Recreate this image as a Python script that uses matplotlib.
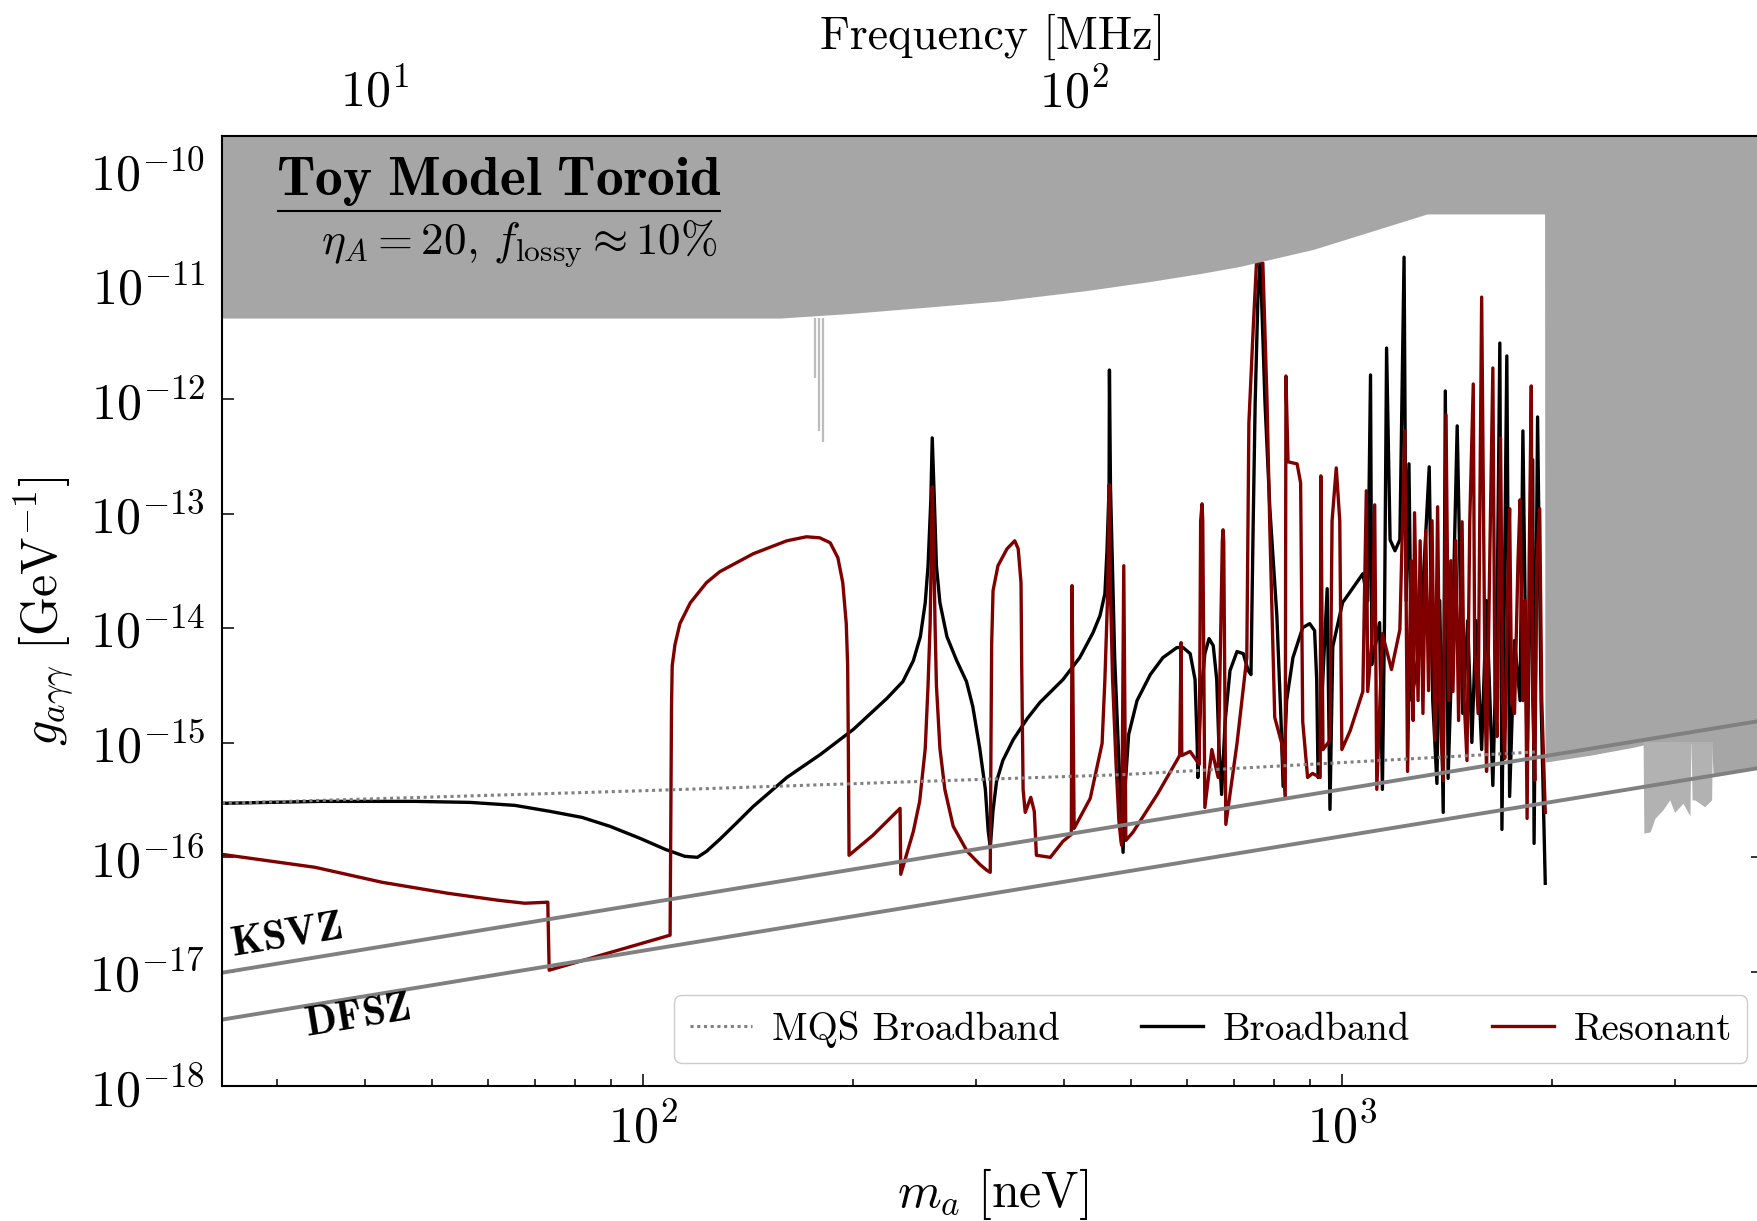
import numpy as np
import matplotlib.pyplot as plt
from matplotlib.ticker import LogLocator, NullLocator

plt.rcParams['font.family'] = 'cmr10'
plt.rcParams['mathtext.fontset'] = 'cm'
plt.rcParams['axes.formatter.use_mathtext'] = True

# all values are log10 of the data (m_a in neV, g in GeV^-1)
broadband_logm = [1.398, 1.538, 1.674, 1.753, 1.817, 1.867, 1.913, 1.953, 1.996, 2.032,
                  2.060, 2.078, 2.091, 2.110, 2.135, 2.158, 2.206, 2.254, 2.301, 2.349,
                  2.372, 2.387, 2.397, 2.404, 2.408, 2.412, 2.414, 2.417, 2.420, 2.425,
                  2.435, 2.449, 2.463, 2.472, 2.482, 2.490, 2.494, 2.497, 2.501, 2.506,
                  2.515, 2.530, 2.550, 2.568, 2.601, 2.625, 2.644, 2.654, 2.661, 2.664,
                  2.667, 2.6675, 2.669, 2.672, 2.675, 2.680, 2.684, 2.687, 2.690, 2.695,
                  2.707, 2.726, 2.744, 2.764, 2.773, 2.783, 2.790, 2.793, 2.794, 2.798,
                  2.804, 2.810, 2.816, 2.821, 2.824, 2.828, 2.833, 2.840, 2.850, 2.859,
                  2.866, 2.870, 2.873, 2.876, 2.880, 2.883, 2.885, 2.890, 2.897, 2.907,
                  2.913, 2.916, 2.921, 2.930, 2.944, 2.954, 2.961, 2.964, 2.966,
                  2.979, 2.983, 2.987, 3.001, 3.030, 3.037, 3.041, 3.043, 3.054, 3.058,
                  3.061, 3.064, 3.069, 3.076, 3.083, 3.089, 3.092, 3.096, 3.100, 3.112,
                  3.125, 3.130, 3.136, 3.140, 3.145, 3.148, 3.152, 3.158, 3.165, 3.173,
                  3.180, 3.186, 3.192, 3.200, 3.207, 3.216, 3.222, 3.226, 3.229, 3.236,
                  3.240, 3.247, 3.255, 3.259, 3.265, 3.273, 3.275, 3.280, 3.285, 3.291]
broadband_logg = [-15.530, -15.513, -15.513, -15.522, -15.548, -15.600, -15.653, -15.731, -15.836, -15.932,
                  -15.993, -16.002, -15.950, -15.845, -15.696, -15.557, -15.304, -15.103, -14.885, -14.614,
                  -14.466, -14.283, -14.073, -13.777, -13.454, -12.878, -12.337, -12.878, -13.454, -13.777,
                  -14.073, -14.283, -14.466, -14.684, -15.051, -15.408, -15.766, -15.915, -15.592, -15.339,
                  -15.156, -14.972, -14.789, -14.649, -14.449, -14.257, -14.039, -13.890, -13.698, -13.323,
                  -12.765, -11.744, -12.765, -13.515, -14.257, -15.007, -15.566, -15.958, -15.382, -14.929,
                  -14.632, -14.405, -14.257, -14.169, -14.169, -14.222, -14.449, -15.007, -15.304, -14.632,
                  -14.222, -14.091, -14.152, -14.449, -15.007, -15.452, -14.815, -14.370, -14.204, -14.222,
                  -14.370, -14.405, -13.140, -12.023, -11.089, -10.792, -11.089, -12.023, -12.956, -13.890,
                  -14.815, -15.382, -14.632, -14.257, -13.995, -13.960, -14.021, -14.449, -15.304,
                  -13.655, -15.583, -14.161, -13.777, -13.524, -13.759, -11.787, -14.318, -13.951, -15.408,
                  -13.934, -11.552, -13.227, -13.323, -13.227, -10.758, -13.759, -12.564, -14.632, -14.108,
                  -12.590, -14.632, -15.356, -13.759, -15.609, -11.927, -15.312, -14.108, -12.232, -14.745,
                  -13.934, -14.998, -13.934, -15.060, -13.759, -15.374, -13.934, -11.508, -15.758, -11.621,
                  -15.470, -14.108, -14.632, -12.276, -15.156, -12.529, -15.880, -12.154, -14.632, -16.229]

resonant_logm = [1.398, 1.531, 1.627, 1.721, 1.793, 1.831, 1.864, 1.866, 2.039, 2.041,
                 2.042, 2.046, 2.053, 2.068, 2.091, 2.110, 2.158, 2.206, 2.234, 2.253,
                 2.268, 2.279, 2.286, 2.291, 2.293, 2.294, 2.295, 2.329, 2.368, 2.369,
                 2.377, 2.387, 2.396, 2.404, 2.408, 2.411, 2.413, 2.414, 2.416, 2.418,
                 2.420, 2.425, 2.432, 2.444, 2.464, 2.482, 2.492, 2.497, 2.498, 2.499,
                 2.501, 2.508, 2.521, 2.532, 2.537, 2.541, 2.542, 2.544, 2.547, 2.555,
                 2.560, 2.563, 2.583, 2.601, 2.613, 2.614, 2.617, 2.640, 2.657, 2.661,
                 2.665, 2.667, 2.669, 2.672, 2.677, 2.681, 2.684, 2.685, 2.688, 2.691,
                 2.701, 2.736, 2.764, 2.768, 2.770, 2.771, 2.783, 2.796, 2.798, 2.800,
                 2.801, 2.804, 2.814, 2.823, 2.829, 2.830, 2.831, 2.834, 2.850, 2.864,
                 2.867, 2.873, 2.878, 2.887, 2.893, 2.897, 2.904, 2.914, 2.919, 2.920,
                 2.923, 2.936, 2.941, 2.944, 2.951, 2.958, 2.969, 2.970, 2.973, 2.983,
                 2.986, 2.992, 2.997, 3.000, 3.012, 3.030, 3.035, 3.037, 3.043, 3.047,
                 3.050, 3.058, 3.071,
                 3.083, 3.090, 3.094, 3.099, 3.102, 3.104, 3.109, 3.112, 3.116, 3.120,
                 3.124, 3.129, 3.133, 3.137, 3.140, 3.145, 3.149, 3.153, 3.156, 3.159,
                 3.163, 3.167, 3.172, 3.175, 3.179, 3.183, 3.188, 3.190, 3.195, 3.197,
                 3.200, 3.205, 3.207, 3.212, 3.216, 3.219, 3.222, 3.225, 3.227, 3.230,
                 3.233, 3.238, 3.240, 3.243, 3.247, 3.252, 3.255, 3.259, 3.262, 3.265,
                 3.268, 3.271, 3.273, 3.276, 3.279, 3.283, 3.286, 3.291]
resonant_logg = [-15.976, -16.089, -16.220, -16.316, -16.377, -16.403, -16.394, -16.988, -16.682, -14.684,
                 -14.327, -14.143, -13.960, -13.777, -13.602, -13.506, -13.349, -13.236, -13.201, -13.210,
                 -13.253, -13.384, -13.602, -13.960, -14.327, -15.051, -15.984, -15.810, -15.574, -16.150,
                 -15.984, -15.775, -15.513, -15.051, -14.501, -13.960, -13.236, -12.765, -13.236, -13.960,
                 -14.501, -15.051, -15.408, -15.731, -15.950, -16.063, -16.115, -16.133, -15.042, -14.143,
                 -13.672, -13.454, -13.306, -13.236, -13.306, -13.602, -14.327, -15.408, -15.609, -15.478,
                 -15.600, -15.984, -16.002, -15.862, -15.801, -13.628, -15.749, -15.487, -15.007, -14.449,
                 -13.698, -12.747, -13.698, -14.449, -15.190, -15.679, -15.862, -15.897, -13.454, -15.854,
                 -15.784, -15.452, -15.156, -15.112, -14.126, -15.112, -15.077, -15.190, -13.061, -12.913,
                 -13.061, -15.566, -15.060, -15.304, -13.236, -13.140, -13.236, -15.714, -15.007, -14.257,
                 -12.206, -11.403, -10.792, -10.810, -12.023, -13.140, -14.780, -15.007, -15.487, -11.796,
                 -12.546, -12.564, -12.730, -14.815, -15.304, -15.269, -15.304, -12.669, -15.060, -14.981,
                 -13.061, -12.599, -13.061, -15.060, -14.894, -14.553, -12.799, -14.553, -14.108, -12.922,
                 -15.408, -14.047, -14.361,
                 -14.012, -12.276, -15.251, -13.410, -14.806, -12.991, -14.632, -13.236, -14.745, -13.148,
                 -14.545, -13.061, -14.981, -12.939, -14.632, -15.330, -12.136, -14.632, -13.410, -14.553,
                 -13.236, -14.806, -13.070, -14.632, -15.156, -13.061, -11.866, -14.195, -14.745, -13.236,
                 -11.107, -14.632, -15.251, -13.236, -11.726, -14.545, -14.946, -13.410, -12.337, -14.632,
                 -15.138, -13.410, -12.956, -14.632, -14.745, -13.410, -12.878, -14.632, -13.759, -15.662,
                 -13.410, -11.883, -14.632, -15.330, -13.410, -12.956, -14.632, -15.609]

mqs_logm = [1.398, 2.000, 2.684, 3.280]
mqs_logg = [-15.53, -15.42, -15.28, -15.08]

# QCD axion bands (end points)
ksvz_logm = [1.398, 3.602]
ksvz_logg = [-17.01, -14.806]
dfsz_logm = [1.398, 3.602]
dfsz_logg = [-17.42, -15.216]

# lower edge of the excluded region
excl_logm = [1.398, 2.196, 2.296, 2.415, 2.511, 2.634, 2.726, 2.798, 2.853, 2.959,
             3.122, 3.290, 3.2905, 3.355, 3.417, 3.431, 3.529, 3.531, 3.602]
excl_logg = [-11.29, -11.29, -11.25, -11.19, -11.14, -11.05, -10.97, -10.90, -10.84, -10.69,
             -10.38, -10.38, -15.17, -15.11, -15.04, -15.02, -15.00, -15.27, -15.20]
# ragged notch of the excluded region near 3 µeV
notch_logm = [3.431, 3.432, 3.441, 3.448, 3.459, 3.469, 3.476, 3.488, 3.498, 3.4995,
              3.501, 3.505, 3.519, 3.529, 3.530]
notch_logg = [-15.02, -15.79, -15.78, -15.66, -15.59, -15.50, -15.61, -15.53, -15.64, -14.95,
              -15.50, -15.50, -15.56, -15.50, -15.00]
# narrow excluded lines hanging below the region
spike_logm = [2.246, 2.252, 2.258]
spike_logg = [-11.81, -12.28, -12.37]

MHZ_PER_NEV = 0.2417989

def p(a):
    return 10.0 ** np.asarray(a)

fig = plt.figure(figsize=(17.58, 12.21), dpi=100)
ax = fig.add_axes([222 / 1758, 135 / 1221, 1540.7 / 1758, 950 / 1221])

ax.fill_between(p(excl_logm), p(excl_logg), 1e-9, color='#a6a6a6', lw=0, zorder=3)
ax.fill_between(p(notch_logm), p(notch_logg), 10 ** -14.99, color='#b2b2b2', lw=0, zorder=3)
ax.vlines(p(spike_logm), p(spike_logg), 10 ** -11.29, color='#bcbcbc', lw=1.6, zorder=3)

ax.plot(p(mqs_logm), p(mqs_logg), ls=(0, (1, 1.2)), color='#808080', lw=2.2, zorder=2.5,
        label='MQS Broadband')
ax.plot(p(broadband_logm), p(broadband_logg), color='black', lw=2.4, zorder=2,
        label='Broadband')
ax.plot(p(resonant_logm), p(resonant_logg), color='#800000', lw=2.4, zorder=2.2,
        label='Resonant')

ax.plot(p(ksvz_logm), p(ksvz_logg), color='#808080', lw=2.8, zorder=4)
ax.plot(p(dfsz_logm), p(dfsz_logg), color='#808080', lw=2.8, zorder=4)
ax.text(10 ** 1.49, 10 ** -16.69, r'$\mathbf{KSVZ}$', fontsize=30, rotation=9.3,
        ha='center', va='center', zorder=5)
ax.text(10 ** 1.591, 10 ** -17.40, r'$\mathbf{DFSZ}$', fontsize=30, rotation=9.3,
        ha='center', va='center', zorder=5)

ax.set_xscale('log')
ax.set_yscale('log')
ax.set_xlim(25, 4000)
ax.set_ylim(1e-18, 2e-10)
ax.yaxis.set_major_locator(LogLocator(base=10, numticks=20))
ax.yaxis.set_minor_locator(NullLocator())

ax.tick_params(which='both', direction='in', top=False, right=True, width=1.1)
ax.tick_params(which='major', length=8.5, labelsize=36, pad=12)
ax.tick_params(which='minor', length=5)
ax.tick_params(axis='y', which='minor', right=False, left=False)
for s in ax.spines.values():
    s.set_linewidth(1.5)
    s.set_zorder(6)

ax.set_xlabel(r'$m_a\ [\mathrm{neV}]$', fontsize=36, labelpad=10)
ax.set_ylabel(r'$g_{a\gamma\gamma}\ [\mathrm{GeV}^{-1}]$', fontsize=36, labelpad=9)

sec = ax.secondary_xaxis('top', functions=(lambda m: m * MHZ_PER_NEV,
                                            lambda f: f / MHZ_PER_NEV))
sec.tick_params(which='both', direction='in', width=1.1)
sec.tick_params(which='major', length=8.5, labelsize=36, pad=14)
sec.tick_params(which='minor', length=5)
sec.set_xlabel('Frequency [MHz]', fontsize=33, labelpad=14)

ax.text(0.180, 0.952, r'$\mathbf{Toy\ Model\ Toroid}$', transform=ax.transAxes,
        fontsize=40, ha='center', va='center', zorder=7)
ax.plot([0.036, 0.324], [0.921, 0.921], transform=ax.transAxes, color='black',
        lw=1.5, zorder=7, solid_capstyle='butt')
ax.text(0.193, 0.887, r'$\eta_A = 20,\, f_{\mathrm{lossy}} \approx 10\%$',
        transform=ax.transAxes, fontsize=32.5, ha='center', va='center', zorder=7)

leg = ax.legend(loc='lower right', bbox_to_anchor=(0.990, 0.024), ncol=3, fontsize=28,
                handlelength=1.6, columnspacing=2.1, handletextpad=0.5,
                borderaxespad=0, fancybox=True, framealpha=1, edgecolor='#cccccc')
leg.set_zorder(8)

fig.savefig('out.png', dpi=100)
